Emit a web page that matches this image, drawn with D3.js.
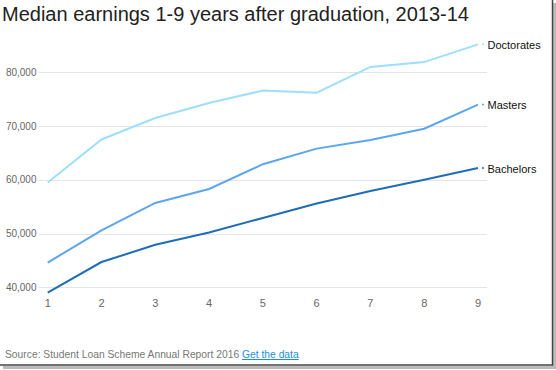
<!DOCTYPE html>
<meta charset="utf-8">
<script src="https://d3js.org/d3.v7.min.js"></script>
<style>
  body { margin: 0; background: #fff; }
  text { font-family: "Liberation Sans", Arial, sans-serif; }
</style>
<div id="chart"></div>
<script>

// years after graduation
var years = [1, 2, 3, 4, 5, 6, 7, 8, 9];

// median earnings per qualification
var doctorates = [59500, 67500, 71500, 74300, 76600, 76200, 81000, 81900, 85200];
var masters    = [44600, 50600, 55700, 58300, 62900, 65800, 67400, 69500, 74000];
var bachelors  = [39000, 44700, 47900, 50200, 52900, 55600, 57900, 60000, 62200];

var seriesNames  = ["Doctorates", "Masters", "Bachelors"];
var seriesColors = ["#9ddffc", "#5ca6ee", "#1f6db6"];
var yTicks = [40000, 50000, 60000, 70000, 80000];

var W = 556, H = 370;

var svg = d3.select("#chart").append("svg")
    .attr("width", W)
    .attr("height", H);

// page frame with shadow on right / bottom
svg.append("rect").attr("x", 0).attr("y", 0).attr("width", W).attr("height", H).attr("fill", "#fff");
svg.append("rect").attr("x", 553).attr("y", 3).attr("width", 3).attr("height", 364).attr("fill", "#bbb");
svg.append("rect").attr("x", 3).attr("y", 366).attr("width", 553).attr("height", 3).attr("fill", "#bbb");
svg.append("line").attr("x1", 552.5).attr("x2", 552.5).attr("y1", 0).attr("y2", 365.5)
    .attr("stroke", "#444").attr("stroke-width", 1.5);
svg.append("line").attr("x1", 0).attr("x2", 553).attr("y1", 365).attr("y2", 365)
    .attr("stroke", "#444").attr("stroke-width", 1.5);

// title
svg.append("text")
    .attr("x", 2).attr("y", 21)
    .attr("font-size", 20)
    .attr("fill", "#222")
    .text("Median earnings 1-9 years after graduation, 2013-14");

var x = d3.scaleLinear().domain([1, 9]).range([47.7, 478]);
var y = d3.scaleLinear().domain([40000, 80000]).range([287.3, 72.3]);

// gridlines
svg.append("g").selectAll("line")
  .data(yTicks)
  .enter().append("line")
    .attr("x1", 39).attr("x2", 487)
    .attr("y1", function(d) { return Math.round(y(d)) + 0.5; })
    .attr("y2", function(d) { return Math.round(y(d)) + 0.5; })
    .attr("stroke", "#e4e4e4")
    .attr("stroke-width", 1.2);

// y labels
svg.append("g").selectAll("text")
  .data(yTicks)
  .enter().append("text")
    .attr("x", 36.5).attr("y", function(d) { return y(d); })
    .attr("dy", "0.35em")
    .attr("text-anchor", "end")
    .attr("font-size", 10)
    .attr("fill", "#666")
    .text(d3.format(","));

// x labels
svg.append("g").selectAll("text")
  .data(years)
  .enter().append("text")
    .attr("x", function(d) { return x(d); })
    .attr("y", 306.5)
    .attr("text-anchor", "middle")
    .attr("font-size", 11)
    .attr("fill", "#666")
    .text(function(d) { return d; });

var series = [doctorates, masters, bachelors].map(function(vals, i) {
  return { name: seriesNames[i], color: seriesColors[i], values: vals };
});

var line = d3.line()
    .x(function(d, i) { return x(years[i]); })
    .y(function(d) { return y(d); });

var g = svg.append("g").selectAll("g")
  .data(series)
  .enter().append("g");

g.append("path")
    .attr("d", function(d) { return line(d.values); })
    .attr("fill", "none")
    .attr("stroke", function(d) { return d.color; })
    .attr("stroke-width", 2);

// little leader tick and label at the end of each line
g.append("line")
    .attr("x1", x(9) + 4).attr("x2", x(9) + 6)
    .attr("y1", function(d) { return y(d.values[8]); })
    .attr("y2", function(d) { return y(d.values[8]); })
    .attr("stroke", function(d) { return d.color; })
    .attr("stroke-width", 1.5);

g.append("text")
    .attr("x", 487.5)
    .attr("y", function(d) { return y(d.values[8]) + 1; })
    .attr("dy", "0.35em")
    .attr("font-size", 11)
    .attr("fill", "#111")
    .text(function(d) { return d.name; });

// source line
var src = svg.append("text")
    .attr("x", 5).attr("y", 358)
    .attr("font-size", 10.3)
    .attr("fill", "#777");
src.append("tspan").text("Source: Student Loan Scheme Annual Report 2016 ");
src.append("tspan")
    .attr("fill", "#1a8fe0")
    .attr("text-decoration", "underline")
    .text("Get the data");

</script>
